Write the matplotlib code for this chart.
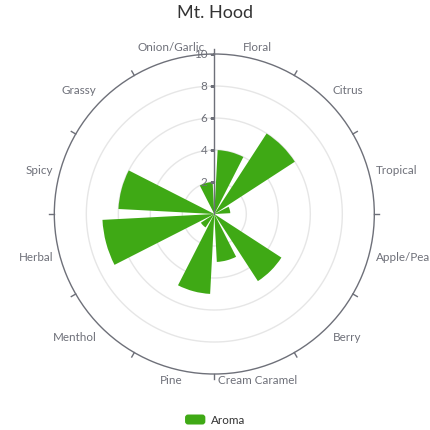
import numpy as np
import matplotlib
matplotlib.use("Agg")
import matplotlib.pyplot as plt
from matplotlib.patches import FancyBboxPatch
from matplotlib.legend_handler import HandlerPatch

plt.rcParams['font.family'] = ['Lato', 'DejaVu Sans']

# data
categories = ['Floral', 'Citrus', 'Tropical', 'Apple/Pear', 'Berry', 'Cream Caramel',
              'Pine', 'Menthol', 'Herbal', 'Spicy', 'Grassy', 'Onion/Garlic']
aroma = [4, 6, 1, 0, 5, 3, 5, 1, 7, 6, 0, 2]
radial_ticks = [2, 4, 6, 8, 10]
title = 'Mt. Hood'
series_name = 'Aroma'

GREEN = '#3fa915'
AXIS = '#6E7079'
GRID = '#E6E6E6'
PX = 0.72  # points per pixel at dpi 100
FS = 11.6 * PX


class RoundBox(HandlerPatch):
    # legend swatch with rounded corners, like echarts
    def create_artists(self, legend, orig_handle, xdescent, ydescent,
                       width, height, fontsize, trans):
        p = FancyBboxPatch((-xdescent, -ydescent), width, height,
                           boxstyle='round,pad=0,rounding_size=%.2f' % (height * 0.3),
                           facecolor=GREEN, edgecolor='none', transform=trans)
        return [p]


fig = plt.figure(figsize=(4.3, 4.3), dpi=100)
ax = fig.add_axes([0.1263, 0.1302, 0.7442, 0.7442], projection='polar')
ax.set_theta_zero_location('N')
ax.set_theta_direction(-1)
ax.set_ylim(0, 10)

n = len(categories)
step = 2 * np.pi / n
theta = np.arange(n) * step + step / 2

# split circles
circ = np.linspace(0, 2 * np.pi, 361)
for r in radial_ticks[:-1]:
    ax.plot(circ, [r] * len(circ), color=GRID, lw=1, zorder=1)

bars = ax.bar(theta, aroma, width=step * 0.8, color=GREEN, label=series_name, zorder=3)

ax.grid(False)
ax.set_yticks([])
ax.set_xticks([])
ax.spines['polar'].set_color(AXIS)
ax.spines['polar'].set_linewidth(1)

# outward ticks on the angle axis at category boundaries
for b in np.arange(n) * step:
    ax.plot([b, b], [10, 10.32], color=AXIS, lw=1, clip_on=False, zorder=2)

# radius axis along the top
ax.plot([0, 0], [0, 10], color=AXIS, lw=1, zorder=4)
ax.plot([0] * len(radial_ticks), radial_ticks, ls='none', marker=0,
        ms=4 * PX, mew=1, color=AXIS, zorder=4)
for r in radial_ticks:
    ax.annotate(str(r), xy=(0, r), xytext=(-7 * PX, 0), textcoords='offset points',
                ha='right', va='center', fontsize=FS, color=AXIS, zorder=5)

# category labels outside the circle
for th, name in zip(theta, categories):
    s, c = np.sin(th), np.cos(th)
    ha = 'center' if abs(s) < 0.3 else ('left' if s > 0 else 'right')
    va = 'bottom' if c > 0.3 else ('top' if c < -0.3 else 'center')
    ax.annotate(name, xy=(th, 10), xytext=(s * 7 * PX, c * 7 * PX),
                textcoords='offset points', ha=ha, va=va, fontsize=FS,
                color=AXIS, annotation_clip=False)

fig.text(0.5, 1 - 12.7 / 430, title, ha='center', va='center',
         fontsize=18 * PX, color='#333333')

leg = fig.legend(handles=[bars.patches[0]], labels=[series_name], loc='center',
                 bbox_to_anchor=(0.5, 10 / 430), frameon=False, fontsize=FS,
                 handlelength=1.75, handleheight=0.95, handletextpad=0.45,
                 labelcolor='#333333', handler_map={bars.patches[0]: RoundBox()})

fig.savefig('out.png', dpi=100)
